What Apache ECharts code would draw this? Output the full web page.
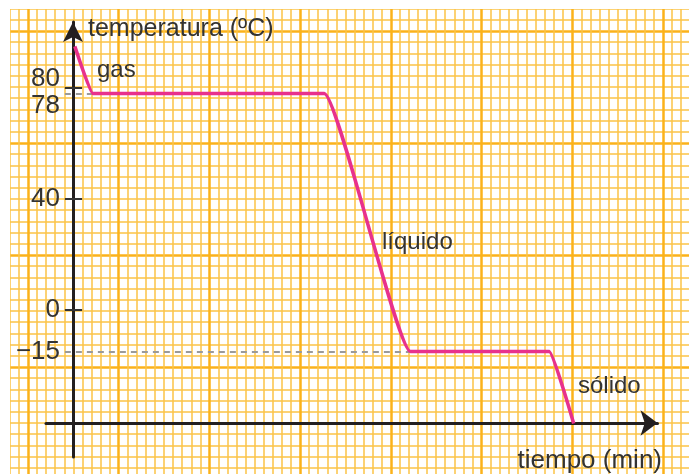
<!DOCTYPE html>
<html>
<head>
<meta charset="utf-8">
<script src="https://cdn.jsdelivr.net/npm/echarts@6/dist/echarts.min.js"></script>
<style>
  html, body { margin: 0; padding: 0; background: #fff; }
  #chart { width: 689px; height: 474px; }
</style>
</head>
<body>
<div id="chart"></div>
<script>
// cooling curve: time in minutes (one minor square = 1), temperature in ºC
const timeMin = [0.2, 2.2, 27.7, 37.2, 52.5, 55.2];
const tempC = [95, 78, 78, -15, -15, -41];
const tickValues = [80, 40, 0];
const labelValues = [40, 0, -15];
const labelUp = [80];
const labelDown = [78];
const dashedLevels = [{ temp: 78, until: 1 }, { temp: -15, until: 3 }]; // until = index in timeMin
const phases = ['gas', 'líquido', 'sólido'];

const AXIS = '#231f20';
const TEXT = '#333';
const PINK = '#e8318c';
const MAJOR = '#fbb21a';
const MINOR = '#fcc447';
const FONT = '"Liberation Sans", Arial, sans-serif';

const chart = echarts.init(document.getElementById('chart'), null, { renderer: 'canvas' });

const hidden = { show: false };
const noAxis = {
  axisLine: hidden, axisTick: hidden, axisLabel: hidden, splitLine: hidden
};

// ticks cross the temperature axis: from a bit left of time 0 to a bit right
const tickLines = tickValues.map(v => [
  { coord: [-0.9, v], lineStyle: { color: TEXT, width: 2, type: 'solid' } },
  { coord: [1, v] }
]);
const dashLines = dashedLevels.map(d => [
  { coord: [-0.9, d.temp], lineStyle: { color: '#9a9a9a', width: 2, type: [6, 5] } },
  { coord: [timeMin[d.until], d.temp] }
]);

chart.setOption({
  animation: false,
  backgroundColor: '#fff',
  grid: [
    // graph paper (runs past the canvas so major lines land on the right spots)
    { left: -62.7, top: -81, width: 816.3, height: 560, outerBoundsMode: 'none', containLabel: false },
    // data + time axis
    { left: 46, top: 22, width: 611.5, height: 401, outerBoundsMode: 'none', containLabel: false },
    // temperature axis
    { left: 73, top: 22, width: 580, height: 435, outerBoundsMode: 'none', containLabel: false }
  ],
  xAxis: [
    {
      gridIndex: 0, type: 'value', min: 0, max: 90, interval: 10,
      axisLine: hidden, axisTick: hidden, axisLabel: hidden,
      splitLine: { show: true, lineStyle: { color: MAJOR, width: 2.5 } },
      minorTick: { show: false, splitNumber: 10 },
      minorSplitLine: { show: true, lineStyle: { color: MINOR, width: 1.5 } }
    },
    {
      gridIndex: 1, type: 'value', min: -2.98, max: 64.44,
      axisLine: {
        show: true, onZero: false,
        lineStyle: { color: AXIS, width: 3 },
        symbol: ['none', 'arrow'], symbolSize: [19, 17]
      },
      axisTick: hidden, axisLabel: hidden, splitLine: hidden,
      name: 'tiempo (min)',
      nameLocation: 'end',
      nameGap: 4.5,
      nameMoveOverlap: false,
      nameTextStyle: {
        color: TEXT, fontFamily: FONT, fontSize: 26,
        align: 'right', verticalAlign: 'top', padding: [25, 0, 0, 0]
      }
    },
    { gridIndex: 2, type: 'value', min: 0, max: 64, show: false }
  ],
  yAxis: [
    {
      gridIndex: 0, type: 'value', min: 0, max: 50, interval: 10,
      axisLine: hidden, axisTick: hidden, axisLabel: hidden,
      splitLine: { show: true, lineStyle: { color: MAJOR, width: 2.5 } },
      minorTick: { show: false, splitNumber: 10 },
      minorSplitLine: { show: true, lineStyle: { color: MINOR, width: 1.5 } }
    },
    Object.assign({ gridIndex: 1, type: 'value', min: -40.8, max: 103.8 }, noAxis),
    {
      gridIndex: 2, type: 'value', min: -53, max: 103.8, position: 'left',
      axisLine: {
        show: true, onZero: false,
        lineStyle: { color: AXIS, width: 3 },
        symbol: ['none', 'arrow'], symbolSize: [15, 20]
      },
      axisTick: hidden,
      axisLabel: {
        show: true, customValues: labelValues, margin: 13,
        color: TEXT, fontFamily: FONT, fontSize: 26,
        formatter: v => String(v).replace('-', '\u2212')
      },
      splitLine: hidden,
      name: 'temperatura (ºC)',
      nameLocation: 'end',
      nameGap: -7,
      nameMoveOverlap: false,
      nameTextStyle: {
        color: TEXT, fontFamily: FONT, fontSize: 25,
        align: 'left', verticalAlign: 'middle', padding: [0, 0, 0, 15]
      }
    },
    {
      // 80: label sits above its tick
      gridIndex: 2, type: 'value', min: -53, max: 103.8, position: 'left', offset: 0,
      axisLine: hidden, splitLine: hidden, axisTick: hidden,
      axisLabel: {
        show: true, customValues: labelUp, margin: 13,
        color: TEXT, fontFamily: FONT, fontSize: 26,
        verticalAlign: 'bottom', lineHeight: 18
      }
    },
    {
      // 78: label sits below its tick
      gridIndex: 2, type: 'value', min: -53, max: 103.8, position: 'left', offset: 0,
      axisLine: hidden, splitLine: hidden, axisTick: hidden,
      axisLabel: {
        show: true, customValues: labelDown, margin: 13,
        color: TEXT, fontFamily: FONT, fontSize: 26,
        verticalAlign: 'top', lineHeight: 24
      }
    }
  ],
  graphic: [
    // white margin round the graph paper
    { type: 'rect', left: 0, top: 0, shape: { width: 10, height: 474 }, style: { fill: '#fff' }, z: 50 },
    { type: 'rect', left: 0, top: 0, shape: { width: 689, height: 9 }, style: { fill: '#fff' }, z: 50 },
    { type: 'text', x: 97, y: 70, style: { text: phases[0], fill: TEXT, font: '24px ' + FONT, verticalAlign: 'middle' }, z: 60 },
    { type: 'text', x: 382, y: 242, style: { text: phases[1], fill: TEXT, font: '24px ' + FONT, verticalAlign: 'middle' }, z: 60 },
    { type: 'text', x: 578, y: 386, style: { text: phases[2], fill: TEXT, font: '24px ' + FONT, verticalAlign: 'middle' }, z: 60 }
  ],
  series: [
    {
      type: 'line',
      xAxisIndex: 1,
      yAxisIndex: 1,
      data: timeMin.map((t, i) => [t, tempC[i]]),
      showSymbol: false,
      symbol: 'none',
      smooth: 0.15,
      smoothMonotone: 'x',
      clip: false,
      lineStyle: { color: PINK, width: 3.5 },
      markLine: {
        silent: true,
        symbol: 'none',
        label: hidden,
        data: tickLines.concat(dashLines)
      },
      z: 5
    }
  ]
});
</script>
</body>
</html>
